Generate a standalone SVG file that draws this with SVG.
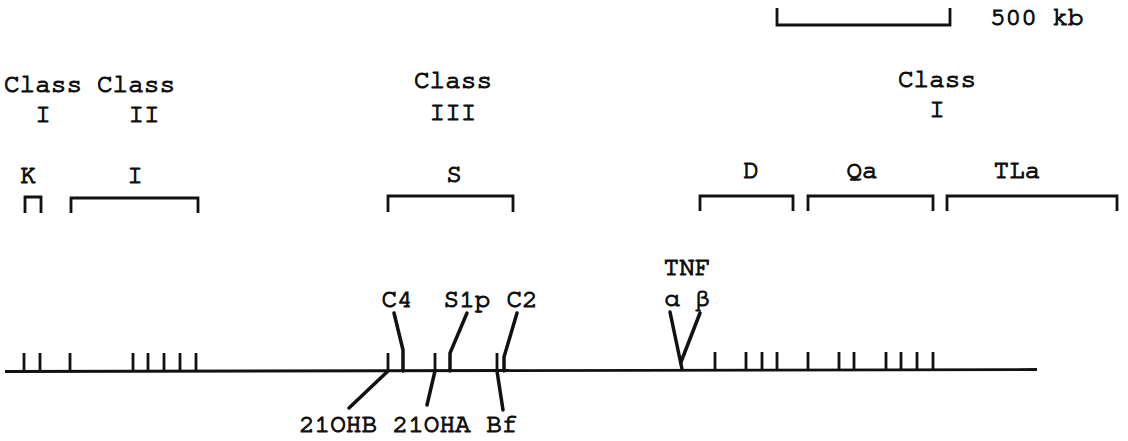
<svg xmlns="http://www.w3.org/2000/svg" width="1128" height="441" viewBox="0 0 1128 441">
  <style>
    text { font-family: "Nimbus Mono PS", "FreeMono", "Liberation Mono", "Courier New", monospace; font-size: 26px; fill: #111; stroke: #111; stroke-width: 1.2; text-anchor: middle; }
    .ln { fill: none; stroke: #111; stroke-width: 2.8; stroke-linecap: butt; stroke-linejoin: miter; }
    .lead { fill: none; stroke: #111; stroke-width: 3.5; stroke-linecap: round; }
    .tick { stroke: #111; stroke-width: 2.8; }
  </style>

  <!-- scale bar -->
  <g id="scale">
    <path class="ln" d="M777,8 V25 H950 V8"/>
    <text x="990" y="25" style="text-anchor:start">500 kb</text>
  </g>

  <!-- class headings -->
  <g id="class-I-left">
    <text x="43" y="92">Class</text>
    <text x="43" y="122">I</text>
  </g>
  <g id="class-II">
    <text x="136" y="92">Class</text>
    <text x="144" y="122">II</text>
  </g>
  <g id="class-III">
    <text x="453" y="88">Class</text>
    <text x="453" y="120">III</text>
  </g>
  <g id="class-I-right">
    <text x="937" y="87">Class</text>
    <text x="937" y="117">I</text>
  </g>

  <!-- region brackets -->
  <g id="region-K">
    <text x="28" y="183">K</text>
    <path class="ln" d="M25,213 V197 H41 V213"/>
  </g>
  <g id="region-I">
    <text x="135" y="183">I</text>
    <path class="ln" d="M71,213 V198 H198 V213"/>
  </g>
  <g id="region-S">
    <text x="454" y="182">S</text>
    <path class="ln" d="M388,212 V196 H513 V212"/>
  </g>
  <g id="region-D">
    <text x="751" y="178">D</text>
    <path class="ln" d="M700,211 V196 H793 V211"/>
  </g>
  <g id="region-Qa">
    <text x="862" y="178">Qa</text>
    <path class="ln" d="M808,211 V196 H933 V211"/>
  </g>
  <g id="region-TLa">
    <text x="1017" y="178">TLa</text>
    <path class="ln" d="M947,211 V196 H1117 V211"/>
  </g>

  <!-- chromosome axis with loci ticks -->
  <g id="axis">
    <path class="ln" d="M5,371.5 L1037,369.5"/>
    <g class="tick">
      <line x1="24" y1="353" x2="24" y2="371"/>
      <line x1="40" y1="353" x2="40" y2="371"/>
      <line x1="70" y1="353" x2="70" y2="371"/>
      <line x1="133" y1="353" x2="133" y2="371"/>
      <line x1="148" y1="353" x2="148" y2="371"/>
      <line x1="164" y1="353" x2="164" y2="371"/>
      <line x1="180" y1="353" x2="180" y2="371"/>
      <line x1="196" y1="353" x2="196" y2="371"/>
      <line x1="388" y1="353" x2="388" y2="371"/>
      <line x1="435" y1="353" x2="435" y2="371"/>
      <line x1="497" y1="353" x2="497" y2="371"/>
      <line x1="715" y1="352" x2="715" y2="370"/>
      <line x1="746" y1="352" x2="746" y2="370"/>
      <line x1="762" y1="352" x2="762" y2="370"/>
      <line x1="777" y1="352" x2="777" y2="370"/>
      <line x1="808" y1="352" x2="808" y2="370"/>
      <line x1="839" y1="352" x2="839" y2="370"/>
      <line x1="854" y1="352" x2="854" y2="370"/>
      <line x1="886" y1="352" x2="886" y2="370"/>
      <line x1="901" y1="352" x2="901" y2="370"/>
      <line x1="917" y1="352" x2="917" y2="370"/>
      <line x1="933" y1="352" x2="933" y2="370"/>
    </g>
  </g>

  <!-- gene labels -->
  <g id="gene-C4">
    <text x="397" y="307">C4</text>
  </g>
  <g id="gene-S1p">
    <text x="467" y="307">S1p</text>
  </g>
  <g id="gene-C2">
    <text x="522" y="307">C2</text>
  </g>
  <g id="gene-TNF">
    <text x="687" y="275">TNF</text>
    <text x="672" y="306">α</text>
    <text x="702" y="306">β</text>
  </g>
  <g id="gene-lower">
    <text x="299" y="432" style="text-anchor:start">21OHB 21OHA Bf</text>
  </g>

  <!-- leader lines from labels to loci -->
  <g id="connectors">
    <path class="lead" d="M394,313 L403,350 V371"/>
    <path class="lead" d="M467,313 L450,353 V371"/>
    <path class="lead" d="M517,313 L504,357 V371"/>
    <path class="lead" d="M388,371 L349,408"/>
    <path class="lead" d="M435,371 L427,405"/>
    <path class="lead" d="M497,371 L503,410"/>
    <path class="lead" d="M670,312 L682,369"/>
    <path class="lead" d="M700,313 L681,362"/>
  </g>
</svg>
